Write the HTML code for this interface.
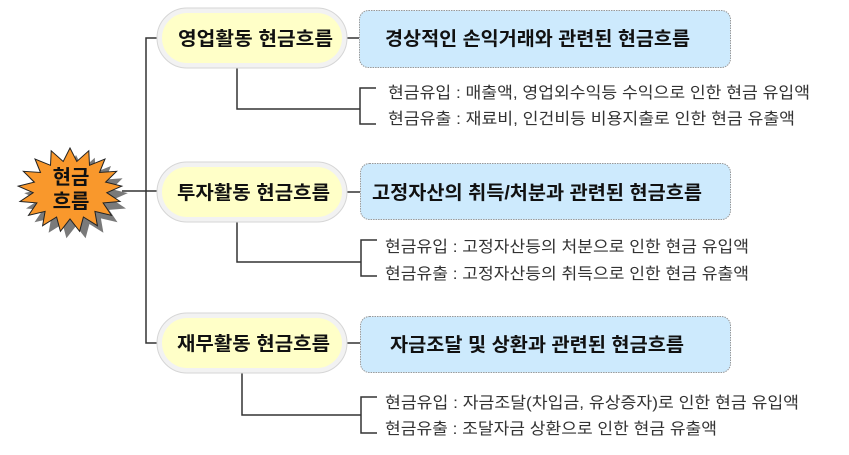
<!DOCTYPE html>
<html><head><meta charset="utf-8"><style>
html,body{margin:0;padding:0;background:#fff;}
svg text{font-family:"Liberation Sans","Noto Sans CJK KR",sans-serif;}
.p{font-size:19px;font-weight:bold;fill:#111;}
.b{font-size:19px;font-weight:bold;fill:#111;}
.d{font-size:16px;fill:#333;}
</style></head><body>
<svg width="849" height="450" viewBox="0 0 849 450" xmlns="http://www.w3.org/2000/svg">
<defs>
<polygon id="star" points="70,148 76.8,161.5 88.8,150.8 89.5,165.3 105,159 99.5,172.5 116.6,171.3 105.6,182.1 121.8,186.1 106.8,192.7 120,201.5 103.1,202.9 111.5,215.3 94.9,211.4 97.4,225.7 83.4,217 79.6,231.3 70,219 60.4,231.3 56.6,217 42.6,225.7 45.1,211.4 28.5,215.3 36.9,202.9 20,201.5 33.2,192.7 18.2,186.1 34.4,182.1 23.4,171.3 40.5,172.5 35,159 50.5,165.3 51.2,150.8 63.2,161.5"/>
</defs>
<g stroke="#333" stroke-width="1.5" fill="none">
<path d="M157 38 H146 V343 H157"/>
<path d="M122 191 H157"/>
<path d="M347 38 H359 M347 192 H360 M347 343 H360"/>
<path d="M237 68 V109 H360 M376 88 H360 V124 H376"/>
<path d="M237 222 V262 H361 M377 240 H361 V276 H377"/>
<path d="M242 372 V415 H361 M377 397 H361 V433 H377"/>
</g>
<use href="#star" fill="#7a7a7a" transform="translate(6,7)"/>
<use href="#star" fill="#f9982c" stroke="#222" stroke-width="1"/>
<text class="p" x="71" y="184" text-anchor="middle" style="font-size:20px">현금</text>
<text class="p" x="71" y="208" text-anchor="middle" style="font-size:20px">흐름</text>
<rect x="157" y="8" width="190" height="60" rx="30" fill="#f2f2f2" stroke="#d6d6d6" stroke-width="1"/>
<rect x="162" y="13" width="180" height="50" rx="25" fill="#ffffc8"/>
<text class="p" x="178" y="45" textLength="155" lengthAdjust="spacingAndGlyphs">영업활동 현금흐름</text>
<rect x="157" y="162" width="190" height="60" rx="30" fill="#f2f2f2" stroke="#d6d6d6" stroke-width="1"/>
<rect x="162" y="167" width="180" height="50" rx="25" fill="#ffffc8"/>
<text class="p" x="177" y="199" textLength="153" lengthAdjust="spacingAndGlyphs">투자활동 현금흐름</text>
<rect x="157" y="313" width="190" height="60" rx="30" fill="#f2f2f2" stroke="#d6d6d6" stroke-width="1"/>
<rect x="162" y="318" width="180" height="50" rx="25" fill="#ffffc8"/>
<text class="p" x="177" y="350" textLength="153" lengthAdjust="spacingAndGlyphs">재무활동 현금흐름</text>
<g fill="#cdeafd" stroke="#999" stroke-width="1" stroke-dasharray="1.5,1">
<rect x="359.5" y="10.5" width="371" height="57" rx="9"/>
<rect x="360.5" y="163.5" width="370" height="56" rx="9"/>
<rect x="360.5" y="316.5" width="370" height="56" rx="9"/>
</g>
<text class="b" x="385" y="45" textLength="305" lengthAdjust="spacingAndGlyphs">경상적인 손익거래와 관련된 현금흐름</text>
<text class="b" x="372" y="199" textLength="330" lengthAdjust="spacingAndGlyphs">고정자산의 취득/처분과 관련된 현금흐름</text>
<text class="b" x="390" y="351" textLength="294" lengthAdjust="spacingAndGlyphs">자금조달 및 상환과 관련된 현금흐름</text>
<text class="d" x="388" y="98" textLength="422" lengthAdjust="spacingAndGlyphs">현금유입 : 매출액, 영업외수익등 수익으로 인한 현금 유입액</text>
<text class="d" x="388" y="124" textLength="407" lengthAdjust="spacingAndGlyphs">현금유출 : 재료비, 인건비등 비용지출로 인한 현금 유출액</text>
<text class="d" x="385" y="252" textLength="364" lengthAdjust="spacingAndGlyphs">현금유입 : 고정자산등의 처분으로 인한 현금 유입액</text>
<text class="d" x="385" y="279" textLength="364" lengthAdjust="spacingAndGlyphs">현금유출 : 고정자산등의 취득으로 인한 현금 유출액</text>
<text class="d" x="385" y="408" textLength="414" lengthAdjust="spacingAndGlyphs">현금유입 : 자금조달(차입금, 유상증자)로 인한 현금 유입액</text>
<text class="d" x="385" y="434" textLength="332" lengthAdjust="spacingAndGlyphs">현금유출 : 조달자금 상환으로 인한 현금 유출액</text>
</svg>
</body></html>
